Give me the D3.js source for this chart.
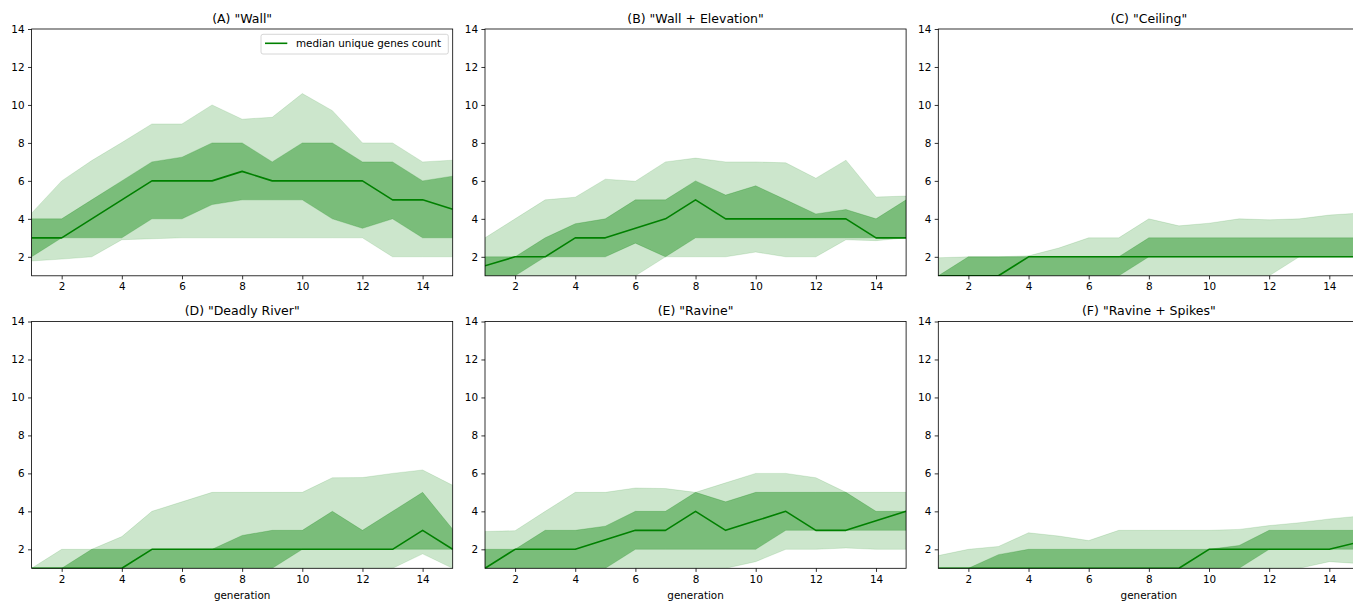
<!DOCTYPE html>
<html>
<head>
<meta charset="utf-8">
<script src="https://cdn.jsdelivr.net/npm/d3@7"></script>
<style>
  html, body { margin: 0; padding: 0; background: #fff; }
  svg { display: block; font-family: "DejaVu Sans", sans-serif; }
</style>
</head>
<body>
<svg id="chart" width="1353" height="601"></svg>
<script>
// ---------- data ----------
const generations = [1, 2, 3, 4, 5, 6, 7, 8, 9, 10, 11, 12, 13, 14, 15];
const xTicks = [2, 4, 6, 8, 10, 12, 14];
const yTicks = [2, 4, 6, 8, 10, 12, 14];
const panelTitles = ['(A) "Wall"', '(B) "Wall + Elevation"', '(C) "Ceiling"',
                     '(D) "Deadly River"', '(E) "Ravine"', '(F) "Ravine + Spikes"'];
const legendLabel = "median unique genes count";
const xLabel = "generation";

// (A) Wall
const wallMedian  = [3, 3, 4, 5, 6, 6, 6, 6.5, 6, 6, 6, 6, 5, 5, 4.5];
const wallInnerLo = [2, 3, 3, 3, 4, 4, 4.75, 5, 5, 5, 4, 3.5, 4, 3, 3];
const wallInnerHi = [4, 4, 5, 6, 7, 7.25, 8, 8, 7, 8, 8, 7, 7, 6, 6.25];
const wallOuterLo = [1.78, 1.88, 2, 2.9, 2.95, 3, 3, 3, 3, 3, 3, 3, 2, 2, 2];
const wallOuterHi = [4.3, 6, 7.07, 8.02, 9, 9, 10, 9.25, 9.35, 10.6, 9.7, 8, 8, 7, 7.09];

// (B) Wall + Elevation
const elevMedian  = [1.53, 2, 2, 3, 3, 3.5, 4, 5, 4, 4, 4, 4, 4, 3, 3];
const elevInnerLo = [1, 1, 2, 2, 2, 2.72, 2, 3, 3, 3, 3, 3, 3, 3, 3];
const elevInnerHi = [2, 2, 3, 3.74, 4, 5, 5, 6, 5.25, 5.74, 5, 4.26, 4.49, 4, 5];
const elevOuterLo = [0.5, 0.5, 0.5, 0.5, 0.5, 1, 2, 2, 2, 2.25, 2, 2, 2.9, 2.85, 3];
const elevOuterHi = [3, 4, 5, 5.14, 6.09, 5.98, 7, 7.2, 7, 7, 6.95, 6.14, 7.09, 5.15, 5.2];

// (C) Ceiling
const ceilMedian  = [1, 1, 1, 2, 2, 2, 2, 2, 2, 2, 2, 2, 2, 2, 2];
const ceilInnerLo = [1, 1, 1, 1, 1, 1, 1, 2, 2, 2, 2, 2, 2, 2, 2];
const ceilInnerHi = [1, 2, 2, 2, 2, 2, 2, 3, 3, 3, 3, 3, 3, 3, 3];
const ceilOuterLo = [1, 1, 1, 1, 1, 1, 1, 1, 1, 1, 1, 1, 2, 2, 2];
const ceilOuterHi = [1.95, 2, 2, 2.05, 2.46, 3, 3, 4, 3.63, 3.77, 4, 3.95, 4, 4.2, 4.3];

// (D) Deadly River
const riverMedian  = [1, 1, 1, 1, 2, 2, 2, 2, 2, 2, 2, 2, 2, 3, 2];
const riverInnerLo = [1, 1, 1, 1, 1, 1, 1, 1, 1, 2, 2, 2, 2, 2, 2];
const riverInnerHi = [1, 1, 2, 2, 2, 2, 2, 2.73, 3, 3, 4, 3, 4, 5, 3.06];
const riverOuterLo = [1, 1, 1, 1, 1, 1, 1, 1, 1, 1, 1, 1, 1, 1.76, 1];
const riverOuterHi = [1, 2, 2, 2.67, 4, 4.5, 5, 5, 5, 5, 5.77, 5.78, 6, 6.18, 5.37];

// (E) Ravine
const ravineMedian  = [1, 2, 2, 2, 2.5, 3, 3, 4, 3, 3.5, 4, 3, 3, 3.5, 4];
const ravineInnerLo = [1, 1, 1, 1, 1, 2, 2, 2, 2, 2, 3, 3, 3, 3, 3];
const ravineInnerHi = [2, 2, 3, 3, 3.22, 4, 4, 5, 4.5, 5, 5, 5, 5, 4, 4];
const ravineOuterLo = [0.8, 0.8, 0.8, 0.8, 0.8, 1, 1, 1, 1, 1.35, 2, 2, 2.07, 2, 2];
const ravineOuterHi = [2.94, 2.98, 4, 5, 5, 5.23, 5.2, 5, 5.5, 6, 6, 5.77, 5, 5, 5];

// (F) Ravine + Spikes
const spikesMedian  = [1, 1, 1, 1, 1, 1, 1, 1, 1, 2, 2, 2, 2, 2, 2.39];
const spikesInnerLo = [1, 1, 1, 1, 1, 1, 1, 1, 1, 1, 1, 2, 2, 2, 2];
const spikesInnerHi = [1, 1, 1.72, 2, 2, 2, 2, 2, 2, 2, 2.2, 3, 3, 3, 3];
const spikesOuterLo = [1, 1, 1, 1, 1, 1, 1, 1, 1, 1, 1, 1, 1, 1.35, 1.25];
const spikesOuterHi = [1.67, 2, 2.15, 2.87, 2.7, 2.46, 3, 3, 3, 3, 3.05, 3.25, 3.4, 3.6, 3.75];

const panelData = [
  [wallMedian, wallInnerLo, wallInnerHi, wallOuterLo, wallOuterHi],
  [elevMedian, elevInnerLo, elevInnerHi, elevOuterLo, elevOuterHi],
  [ceilMedian, ceilInnerLo, ceilInnerHi, ceilOuterLo, ceilOuterHi],
  [riverMedian, riverInnerLo, riverInnerHi, riverOuterLo, riverOuterHi],
  [ravineMedian, ravineInnerLo, ravineInnerHi, ravineOuterLo, ravineOuterHi],
  [spikesMedian, spikesInnerLo, spikesInnerHi, spikesOuterLo, spikesOuterHi]
];

// ---------- layout ----------
const colLefts = [31.6, 485, 938.3];
const rowTops = [29, 321.5];
const plotW = 421.1;
const plotH = 246.8;
const green = "#008000";

const svg = d3.select("#chart");

panelData.forEach((d, i) => {
  const col = i % 3, row = Math.floor(i / 3);
  const g = svg.append("g").attr("transform", `translate(${colLefts[col]},${rowTops[row]})`);
  const x = d3.scaleLinear().domain([1, 15]).range([0, plotW]);
  const y = d3.scaleLinear().domain([1, 14]).range([plotH, 0]);

  const clipId = "clip" + i;
  g.append("clipPath").attr("id", clipId)
    .append("rect").attr("x", 0).attr("y", 0).attr("width", plotW).attr("height", plotH);
  const lineClipId = "lclip" + i;
  g.append("clipPath").attr("id", lineClipId)
    .append("rect").attr("x", 0).attr("y", -1).attr("width", plotW).attr("height", plotH + 1.2);

  const [med, iLo, iHi, oLo, oHi] = d;
  const rows = generations.map((gen, k) => ({gen, med: med[k], iLo: iLo[k], iHi: iHi[k], oLo: oLo[k], oHi: oHi[k]}));

  const plot = g.append("g").attr("clip-path", `url(#${clipId})`);

  const outerArea = d3.area().x(r => x(r.gen)).y0(r => y(r.oLo)).y1(r => y(r.oHi));
  const innerArea = d3.area().x(r => x(r.gen)).y0(r => y(r.iLo)).y1(r => y(r.iHi));
  const line = d3.line().x(r => x(r.gen)).y(r => y(r.med));

  plot.append("path").datum(rows).attr("d", outerArea)
    .attr("fill", green).attr("fill-opacity", 0.2)
    .attr("stroke", green).attr("stroke-opacity", 0.12).attr("stroke-width", 1);
  plot.append("path").datum(rows).attr("d", innerArea)
    .attr("fill", green).attr("fill-opacity", 0.4)
    .attr("stroke", green).attr("stroke-opacity", 0.2).attr("stroke-width", 1);
  g.append("g").attr("clip-path", `url(#${lineClipId})`)
    .append("path").datum(rows).attr("d", line)
    .attr("fill", "none").attr("stroke", green).attr("stroke-width", 1.6)
    .attr("stroke-linejoin", "round");

  // axes
  const xAxis = d3.axisBottom(x).tickValues(xTicks).tickSize(3.6).tickPadding(3.4);
  const yAxis = d3.axisLeft(y).tickValues(yTicks).tickSize(3.6).tickPadding(3.4);
  const xg = g.append("g").attr("transform", `translate(0,${plotH})`).call(xAxis);
  const yg = g.append("g").call(yAxis);
  [xg, yg].forEach(a => {
    a.select(".domain").remove();
    a.selectAll(".tick line").attr("stroke", "#000").attr("stroke-width", 0.8);
    a.selectAll(".tick text").attr("fill", "#000").style("font-size", "10.4px")
      .style("font-family", "DejaVu Sans, sans-serif");
  });

  // spines
  g.append("rect").attr("x", 0).attr("y", 0).attr("width", plotW).attr("height", plotH)
    .attr("fill", "none").attr("stroke", "#000").attr("stroke-width", 0.8);

  // title
  g.append("text").attr("x", plotW / 2).attr("y", -6.3)
    .attr("text-anchor", "middle").attr("fill", "#000")
    .style("font-size", "12.5px").text(panelTitles[i]);

  if (row === 1) {
    g.append("text").attr("x", plotW / 2).attr("y", plotH + 30.5)
      .attr("text-anchor", "middle").attr("fill", "#000")
      .style("font-size", "10.4px").text(xLabel);
  }

  if (i === 0) {
    const lg = g.append("g").attr("transform", `translate(${261 - colLefts[0]},${34.3 - rowTops[0]})`);
    lg.append("rect").attr("x", 0).attr("y", 0).attr("width", 187.3).attr("height", 19.7)
      .attr("rx", 2).attr("fill", "#fff").attr("fill-opacity", 0.8)
      .attr("stroke", "#ccc").attr("stroke-width", 0.8);
    lg.append("line").attr("x1", 4).attr("x2", 26.3).attr("y1", 9).attr("y2", 9)
      .attr("stroke", green).attr("stroke-width", 1.6);
    lg.append("text").attr("x", 35).attr("y", 12.8).attr("fill", "#000")
      .style("font-size", "10.4px").text(legendLabel);
  }
});
</script>
</body>
</html>
